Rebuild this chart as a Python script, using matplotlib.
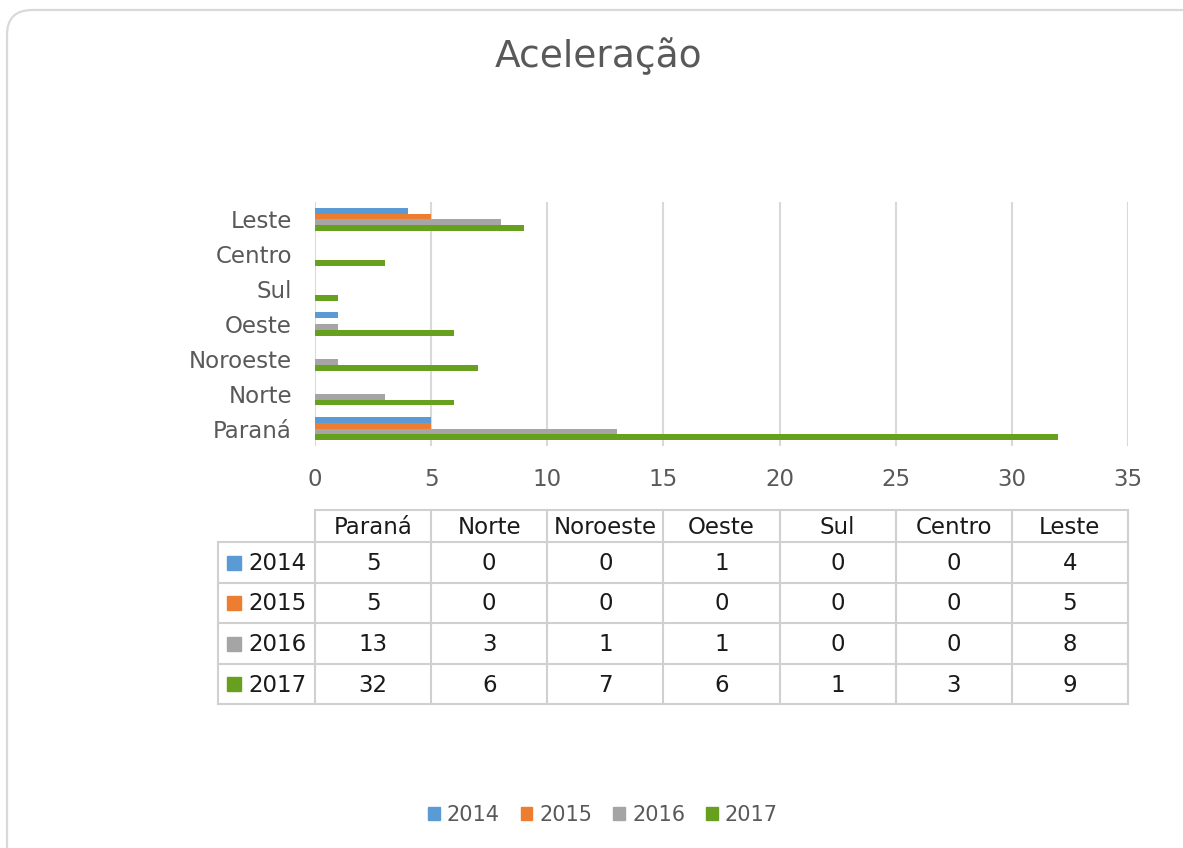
import matplotlib.pyplot as plt
import numpy as np
from matplotlib.patches import Patch, FancyBboxPatch, Rectangle

regions = ['Paraná', 'Norte', 'Noroeste', 'Oeste', 'Sul', 'Centro', 'Leste']
years = ['2014', '2015', '2016', '2017']
v2014 = [5, 0, 0, 1, 0, 0, 4]
v2015 = [5, 0, 0, 0, 0, 0, 5]
v2016 = [13, 3, 1, 1, 0, 0, 8]
v2017 = [32, 6, 7, 6, 1, 3, 9]
series = [v2014, v2015, v2016, v2017]
colors = ['#5B9BD5', '#ED7D31', '#A5A5A5', '#66A01E']
xticks = [0, 5, 10, 15, 20, 25, 30, 35]

W, H = 1183, 848
gray_txt = '#595959'
grid_c = '#d9d9d9'
fs = 16.5

plt.rcParams['font.family'] = 'DejaVu Sans'
fig = plt.figure(figsize=(W / 100, H / 100), dpi=100)

# chart area (pixel based placement)
left, right, top, bottom = 315, 1128, 202, 446
ax = fig.add_axes([left / W, 1 - bottom / H, (right - left) / W, (bottom - top) / H])
y = np.arange(len(regions))
h = 0.169
for i, vals in enumerate(series):
    ax.barh(y + (1.5 - i) * h, vals, height=h, color=colors[i], zorder=3)
ax.set_xlim(0, 35)
ax.set_ylim(-0.5, len(regions) - 0.5)
ax.set_xticks(xticks)
ax.set_yticks(y)
ax.set_yticklabels(regions)
ax.grid(axis='x', color=grid_c, lw=1.5, zorder=0)
for s in ax.spines.values():
    s.set_visible(False)
ax.tick_params(axis='x', length=0, pad=15.5, labelsize=fs, labelcolor=gray_txt)
ax.tick_params(axis='y', length=0, pad=16.5, labelsize=fs, labelcolor=gray_txt)

# overlay in pixel coords for table, border, title
ov = fig.add_axes([0, 0, 1, 1])
ov.set_xlim(0, W)
ov.set_ylim(H, 0)
ov.axis('off')

ov.add_patch(FancyBboxPatch((7, 10), W + 30, H + 30, boxstyle='round,pad=0,rounding_size=25',
                            fc='none', ec=grid_c, lw=1.6, clip_on=False))
ov.text(599, 56, 'Aceleração', ha='center', va='center', fontsize=27, color=gray_txt)

# data table
tab_c = '#d0d0d0'
txt_c = '#1a1a1a'
col_w = (right - left) / len(regions)
xs = [left + k * col_w for k in range(len(regions) + 1)]
row_y = [510, 542, 583, 623, 664, 704]
lab_left = 218
ov.plot([left, right], [row_y[0], row_y[0]], color=tab_c, lw=1.5)
for ry in row_y[1:]:
    ov.plot([lab_left, right], [ry, ry], color=tab_c, lw=1.5)
ov.plot([lab_left, lab_left], [row_y[1], row_y[-1]], color=tab_c, lw=1.5)
for xv in xs:
    ov.plot([xv, xv], [row_y[0], row_y[-1]], color=tab_c, lw=1.5)
for k, r in enumerate(regions):
    ov.text((xs[k] + xs[k + 1]) / 2, (row_y[0] + row_y[1]) / 2 + 1, r,
            ha='center', va='center', fontsize=fs, color=txt_c)
for i, vals in enumerate(series):
    cy = (row_y[i + 1] + row_y[i + 2]) / 2 + 1
    ov.add_patch(Rectangle((227, cy - 8), 14, 14, color=colors[i]))
    ov.text(248, cy, years[i], ha='left', va='center', fontsize=fs, color=txt_c)
    for k, v in enumerate(vals):
        ov.text((xs[k] + xs[k + 1]) / 2, cy, str(v), ha='center', va='center',
                fontsize=fs, color=txt_c)

# legend
handles = [Patch(color=c) for c in colors]
fig.legend(handles, years, loc='center', bbox_to_anchor=(603 / W, 1 - 815 / H), ncol=4,
           frameon=False, fontsize=15, labelcolor=gray_txt, handlelength=0.55,
           handleheight=0.55, handletextpad=0.35, columnspacing=1.0)

fig.savefig('out.png', dpi=100)
